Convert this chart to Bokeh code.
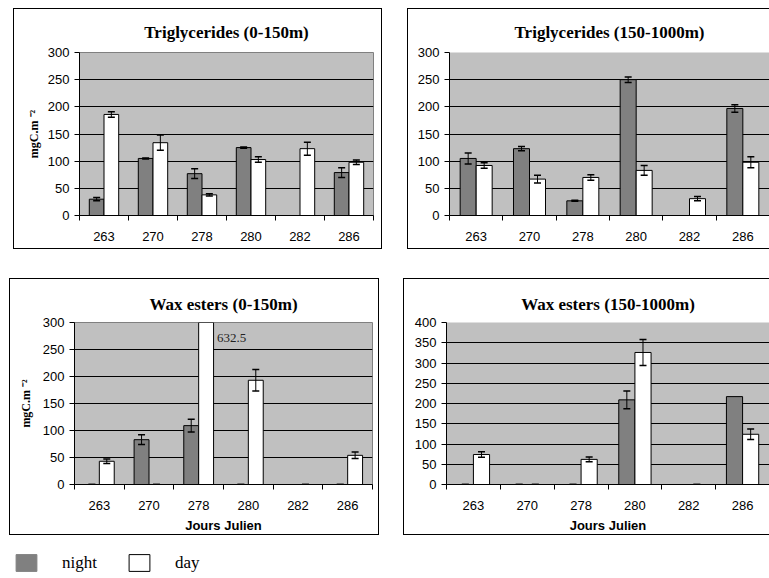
import math
from bokeh.plotting import figure
from bokeh.models import (Range1d, FixedTicker, SingleIntervalTicker, ColumnDataSource,
                          Whisker, TeeHead, Legend, LegendItem)
from bokeh.layouts import row, column
from bokeh.embed import file_html
from bokeh.resources import INLINE
from bokeh.core.properties import value

nan = float("nan")

# ---- data ----
days = ["263", "270", "278", "280", "282", "286"]

tg_shallow_night = [30, 105, 77, 125, nan, 79]
tg_shallow_night_err = [3, 1, 9, 1, nan, 9]
tg_shallow_day = [186, 134, 38, 103, 123, 98]
tg_shallow_day_err = [5, 14, 2, 5, 12, 4]

tg_deep_night = [105, 123, 27, 250, nan, 197]
tg_deep_night_err = [10, 4, 1, 5, nan, 7]
tg_deep_day = [92, 67, 70, 83, 31, 98]
tg_deep_day_err = [5, 7, 5, 9, 4, 10]

wax_shallow_night = [0, 83, 109, 0, nan, 0]
wax_shallow_night_err = [0, 9, 12, 0, nan, 0]
wax_shallow_day = [43, 0, 632.5, 193, 0, 54]
wax_shallow_day_err = [4, 0, nan, 20, 0, 6]

wax_deep_night = [0, 0, 0, 209, nan, 217]
wax_deep_night_err = [0, 0, 0, 22, nan, nan]
wax_deep_day = [74, 0, 62, 326, 0, 124]
wax_deep_day_err = [7, 0, 6, 32, 0, 13]

series_names = ["night", "day"]
y_label = "mgC.m \u207b\u00b2"
x_label = "Jours Julien"

NIGHT = "#808080"
DAY = "#ffffff"
PLOT_BG = "#c0c0c0"
SERIF = "Liberation Serif"
SANS = "Liberation Sans"


def ok(v):
    return v is not None and not (isinstance(v, float) and math.isnan(v))


def panel(title, night, night_err, day, day_err, ymax, w, h, mb, ylab=None, xlab=None,
          margin=(0, 0, 0, 0), label_big=None, cut_right=False, title_standoff=13,
          ylab_standoff=1):
    n = len(days)
    p = figure(width=w, height=h, x_range=Range1d(0, n), y_range=Range1d(0, ymax),
               output_backend="svg", toolbar_location=None,
               min_border_left=mb[0], min_border_right=mb[1],
               min_border_top=mb[2], min_border_bottom=mb[3])
    p.margin = margin
    p.border_fill_color = None
    if cut_right:
        # chart box runs off the right edge of the page in the reference
        p.styles = {"box-shadow": "inset 1px 0 0 #000, inset 0 1px 0 #000, inset 0 -1px 0 #000",
                    "background-color": "white"}
        p.outline_line_color = None
    else:
        p.styles = {"box-shadow": "inset 0 0 0 1px #000", "background-color": "white"}
        p.outline_line_color = "#808080"
        p.outline_line_width = 1
    p.background_fill_color = PLOT_BG

    p.title.text = title
    p.title.align = "center"
    p.title.text_font = SERIF
    p.title.text_font_style = "bold"
    p.title.text_font_size = "17px"
    p.title.text_color = "black"
    p.title.standoff = title_standoff

    for vals, errs, off, col in [(night, night_err, -0.15, NIGHT), (day, day_err, 0.15, DAY)]:
        xs, tops = [], []
        ex, lo, hi = [], [], []
        for i, v in enumerate(vals):
            if ok(v):
                xs.append(i + 0.5 + off)
                tops.append(v)
                if ok(errs[i]):
                    ex.append(i + 0.5 + off)
                    lo.append(v - errs[i])
                    hi.append(v + errs[i])
        p.vbar(x=xs, top=tops, bottom=0, width=0.3, fill_color=col, line_color="black",
               line_width=1)
        src = ColumnDataSource(dict(x=ex, lower=lo, upper=hi))
        wk = Whisker(base="x", lower="lower", upper="upper", source=src,
                     line_color="black", line_width=1, level="overlay",
                     upper_head=TeeHead(size=7, line_color="black", line_width=1.5),
                     lower_head=TeeHead(size=7, line_color="black", line_width=1.5))
        p.add_layout(wk)

    if label_big is not None:
        i = label_big
        src = ColumnDataSource(dict(x=[i + 0.5 + 0.37], y=[ymax * 0.905],
                                    t=[str(day[i])]))
        p.text(x="x", y="y", text="t", source=src, text_font=value(SERIF),
               text_font_size="13px", text_color="#222222", text_align="left",
               text_baseline="middle")

    centers = [i + 0.5 for i in range(n)]
    xa = p.xaxis[0]
    xa.ticker = FixedTicker(ticks=centers, minor_ticks=list(range(n + 1)))
    xa.major_label_overrides = {c: d for c, d in zip(centers, days)}
    xa.major_tick_out = 0
    xa.major_tick_in = 0
    xa.minor_tick_out = 5
    xa.minor_tick_in = 0
    xa.minor_tick_line_color = "black"
    xa.axis_line_color = "black"
    xa.major_label_standoff = 11
    xa.major_label_text_font = SANS
    xa.major_label_text_font_size = "13px"
    xa.major_label_text_color = "black"
    if xlab:
        xa.axis_label = xlab
        xa.axis_label_text_font = SANS
        xa.axis_label_text_font_style = "bold"
        xa.axis_label_text_font_size = "13px"
        xa.axis_label_text_color = "black"
        xa.axis_label_standoff = 5

    ya = p.yaxis[0]
    ya.ticker = SingleIntervalTicker(interval=50, num_minor_ticks=0)
    ya.major_tick_out = 5
    ya.major_tick_in = 0
    ya.minor_tick_out = 0
    ya.minor_tick_in = 0
    ya.major_tick_line_color = "black"
    ya.axis_line_color = "black"
    ya.major_label_standoff = 5
    ya.major_label_text_font = SANS
    ya.major_label_text_font_size = "13px"
    ya.major_label_text_color = "black"
    if ylab:
        ya.axis_label = ylab
        ya.axis_label_text_font = SERIF
        ya.axis_label_text_font_style = "bold"
        ya.axis_label_text_font_size = "12px"
        ya.axis_label_text_color = "black"
        ya.axis_label_standoff = ylab_standoff

    p.xgrid.visible = False
    p.ygrid.ticker = SingleIntervalTicker(interval=50, num_minor_ticks=0)
    p.ygrid.grid_line_color = "black"
    p.ygrid.grid_line_width = 1
    return p


p1 = panel("Triglycerides (0-150m)", tg_shallow_night, tg_shallow_night_err,
           tg_shallow_day, tg_shallow_day_err, 300, 369, 241, (66, 9, 44, 33),
           ylab=y_label, margin=(8, 0, 0, 13), title_standoff=21, ylab_standoff=4)
p2 = panel("Triglycerides (150-1000m)", tg_deep_night, tg_deep_night_err,
           tg_deep_day, tg_deep_day_err, 300, 362, 241, (42, 0, 44, 34),
           margin=(8, 0, 0, 25), cut_right=True, title_standoff=21)
p3 = panel("Wax esters (0-150m)", wax_shallow_night, wax_shallow_night_err,
           wax_shallow_day, wax_shallow_day_err, 300, 370, 257, (65, 7, 43, 47),
           ylab=y_label, xlab=x_label, margin=(29, 0, 0, 9), label_big=2,
           title_standoff=17, ylab_standoff=7)
p4 = panel("Wax esters (150-1000m)", wax_deep_night, wax_deep_night_err,
           wax_deep_day, wax_deep_day_err, 400, 366, 257, (43, 0, 44, 47),
           xlab=x_label, margin=(29, 0, 0, 24), cut_right=True, title_standoff=17)

# legend strip (its two renderers sit outside the visible range; only the legend shows)
leg = figure(width=300, height=21, x_range=Range1d(0, 1), y_range=Range1d(0, 1),
             output_backend="svg", toolbar_location=None,
             x_axis_location=None, y_axis_location=None,
             min_border_left=0, min_border_right=0, min_border_top=0, min_border_bottom=0)
leg.margin = (17, 0, 0, 13)
leg.grid.visible = False
leg.outline_line_color = None
leg.background_fill_color = "white"
r_n = leg.vbar(x=[5], top=[5], bottom=[4], width=0.3, fill_color=NIGHT, line_color=NIGHT)
r_d = leg.vbar(x=[5], top=[5], bottom=[4], width=0.3, fill_color=DAY, line_color="black")
legend = Legend(items=[LegendItem(label=series_names[0], renderers=[r_n]),
                       LegendItem(label=series_names[1], renderers=[r_d])],
                orientation="horizontal", location="top_left",
                glyph_width=26, glyph_height=21, label_standoff=23, spacing=29,
                padding=0, margin=0, border_line_color=None, background_fill_alpha=0,
                label_text_font=SERIF, label_text_font_size="17px",
                label_text_color="black", label_height=21)
leg.add_layout(legend)

layout = column(row(p1, p2), row(p3, p4), leg)

open("out.html", "w").write(file_html(layout, INLINE))
